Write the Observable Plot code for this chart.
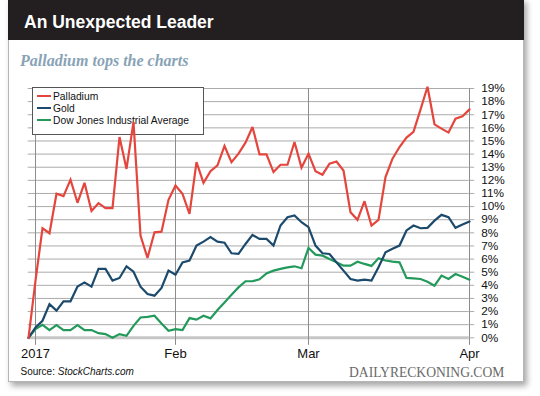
<!DOCTYPE html>
<html><head><meta charset="utf-8">
<script src="https://cdn.jsdelivr.net/npm/d3@7"></script>
<script src="https://cdn.jsdelivr.net/npm/@observablehq/plot@0.6"></script>
<style>
html,body{margin:0;padding:0;background:#fff;}
body{width:540px;height:396px;overflow:hidden;position:relative;font-family:"Liberation Sans",Arial,sans-serif;}
#card{position:absolute;left:8px;top:-2px;width:516px;height:384px;background:#fff;border:1px solid #b5b5b5;box-sizing:border-box;box-shadow:3px 4px 6px rgba(0,0,0,0.35);}
#bar{position:absolute;left:8px;top:-2px;width:516px;height:42px;background:#231f20;}
#title{position:absolute;left:24px;top:13.5px;line-height:1;color:#fff;font-weight:bold;font-size:17.5px;white-space:nowrap;}
#subtitle{position:absolute;left:20px;top:52.6px;line-height:1;color:#88a3b6;font-family:"Liberation Serif",serif;font-weight:bold;font-style:italic;font-size:16px;white-space:nowrap;}
#source{position:absolute;left:20.5px;top:366.5px;line-height:1;font-size:10px;color:#111;white-space:nowrap;}
#brand{position:absolute;left:349px;top:365.9px;line-height:1;font-family:"Liberation Serif",serif;font-size:13.6px;color:#6a6a6a;white-space:nowrap;}
.layer{position:absolute;left:0;top:0;}
#legend{position:absolute;left:31.5px;top:86.5px;width:172.5px;height:48.5px;background:#fff;border:1px solid #555;box-sizing:border-box;}
.row{position:absolute;left:4.5px;height:12px;line-height:12px;font-size:10.3px;color:#111;white-space:nowrap;}
.sw{display:inline-block;width:13.5px;height:2.2px;vertical-align:middle;margin-right:2.5px;position:relative;top:-1px;}
</style>
</head><body>
<div id="card"></div>
<div id="bar"></div>
<div id="title">An Unexpected Leader</div>
<div id="subtitle">Palladium tops the charts</div>
<div id="gridLayer" class="layer"></div>
<div id="legend"></div>
<div id="lineLayer" class="layer"></div>
<div id="source">Source: <i>StockCharts.com</i></div>
<div id="brand">DAILYRECKONING.COM</div>
<script>
// Trading days (Dec 30, 2016 baseline through Apr 3, 2017)
const dates = [
"2016-12-30",
"2017-01-03","2017-01-04","2017-01-05","2017-01-06","2017-01-09","2017-01-10","2017-01-11","2017-01-12","2017-01-13",
"2017-01-17","2017-01-18","2017-01-19","2017-01-20","2017-01-23","2017-01-24","2017-01-25","2017-01-26","2017-01-27","2017-01-30","2017-01-31",
"2017-02-01","2017-02-02","2017-02-03","2017-02-06","2017-02-07","2017-02-08","2017-02-09","2017-02-10","2017-02-13","2017-02-14",
"2017-02-15","2017-02-16","2017-02-17","2017-02-21","2017-02-22","2017-02-23","2017-02-24","2017-02-27","2017-02-28",
"2017-03-01","2017-03-02","2017-03-03","2017-03-06","2017-03-07","2017-03-08","2017-03-09","2017-03-10","2017-03-13","2017-03-14",
"2017-03-15","2017-03-16","2017-03-17","2017-03-20","2017-03-21","2017-03-22","2017-03-23","2017-03-24","2017-03-27","2017-03-28",
"2017-03-29","2017-03-30","2017-03-31","2017-04-03"];

const palladium = [0,4.36,8.35,7.97,10.98,10.80,12.05,10.29,11.81,9.67,
10.26,9.88,9.88,15.30,12.87,16.45,7.79,6.09,8.04,8.09,10.52,
11.61,10.97,9.45,13.39,11.81,12.70,13.14,14.62,13.39,14.03,
14.87,16.07,13.98,13.98,12.63,13.19,13.19,14.92,12.97,
14.03,12.70,12.43,13.27,13.44,12.75,9.57,8.99,10.41,8.56,
8.99,12.25,13.65,14.54,15.26,15.69,17.39,19.13,16.27,15.94,
15.64,16.70,16.89,17.41];

const gold = [0,0.79,1.30,2.57,2.07,2.78,2.78,3.90,4.22,3.90,
5.25,5.25,4.36,4.56,5.45,5.04,3.90,3.33,3.21,3.80,5.12,
4.81,5.75,5.89,7.03,7.33,7.67,7.33,7.25,6.44,6.39,
7.15,7.84,7.54,7.54,7.03,8.56,9.19,9.32,8.81,
8.43,7.03,6.44,6.39,5.75,5.12,4.48,4.36,4.43,4.36,
5.37,6.51,6.78,7.03,8.18,8.56,8.35,8.38,8.93,9.37,
9.19,8.38,8.63,8.86];

const dow = [0,0.66,0.99,0.59,0.96,0.59,0.59,0.96,0.59,0.59,
0.35,0.28,0.00,0.28,0.15,0.91,1.55,1.60,1.68,1.09,0.54,
0.66,0.59,1.50,1.38,1.68,1.48,2.12,2.69,3.28,3.84,
4.31,4.31,4.46,4.91,5.12,5.25,5.37,5.45,5.30,
6.85,6.34,6.26,6.01,5.75,5.50,5.50,5.80,5.63,5.48,
6.06,5.89,5.80,5.75,4.56,4.53,4.48,4.27,3.97,4.74,
4.48,4.86,4.66,4.43];

const seriesNames = ["Palladium","Gold","Dow Jones Industrial Average"];
const seriesColors = ["#e4463d","#1c4a6c","#239a5c"];
const xTicks = ["2017-01-03","2017-02-01","2017-03-01","2017-04-03"];
const xTickLabels = ["2017","Feb","Mar","Apr"];
const yTicks = [0,1,2,3,4,5,6,7,8,9,10,11,12,13,14,15,16,17,18,19];

const common = {
  width: 540, height: 396,
  marginLeft: 27.7, marginRight: 71.3, marginTop: 88, marginBottom: 58.7,
  x: {type: "point", domain: dates, padding: 0, axis: null},
  y: {domain: [0, 19], axis: null},
  style: {background: "transparent", fontFamily: "Liberation Sans, Arial, sans-serif", color: "#111", overflow: "visible"}
};

const gridPlot = Plot.plot({
  ...common,
  marks: [
    Plot.gridY(yTicks, {stroke: "#ababab", strokeOpacity: 1, strokeWidth: 1}),
    Plot.axisY(yTicks, {anchor: "right", tickSize: 4.5, tickPadding: 7.5, stroke: "#ababab", strokeOpacity: 1,
      tickFormat: d => d + "%", fontSize: 11.8, fill: "#111", label: null}),
    Plot.ruleY([0], {stroke: "#c6c6c6", strokeWidth: 3}),
    Plot.gridX(xTicks, {stroke: "#8c8c8c", strokeOpacity: 1, strokeWidth: 1}),
    Plot.axisX(xTicks, {tickSize: 7.5, tickPadding: 3, stroke: "#8c8c8c", strokeOpacity: 1,
      tickFormat: d => xTickLabels[xTicks.indexOf(d)], fontSize: 13, fill: "#111", label: null})
  ]
});
document.getElementById("gridLayer").appendChild(gridPlot);

const seriesData = [palladium, gold, dow];
const drawOrder = [2, 1, 0];

const linePlot = Plot.plot({
  ...common,
  marks: drawOrder.map(s => Plot.line(seriesData[s].map((v, i) => ({date: dates[i], value: v})), {
    x: "date", y: "value", stroke: seriesColors[s], strokeWidth: 2.2, strokeLinejoin: "miter", strokeMiterlimit: 3
  }))
});
document.getElementById("lineLayer").appendChild(linePlot);

const legend = document.getElementById("legend");
const rowTops = [3.2, 15.5, 27.6];
seriesNames.forEach((name, i) => {
  const r = document.createElement("div");
  r.className = "row";
  r.style.top = rowTops[i] + "px";
  r.innerHTML = `<span class="sw" style="background:${seriesColors[i]}"></span>${name}`;
  legend.appendChild(r);
});
</script>
</body></html>
